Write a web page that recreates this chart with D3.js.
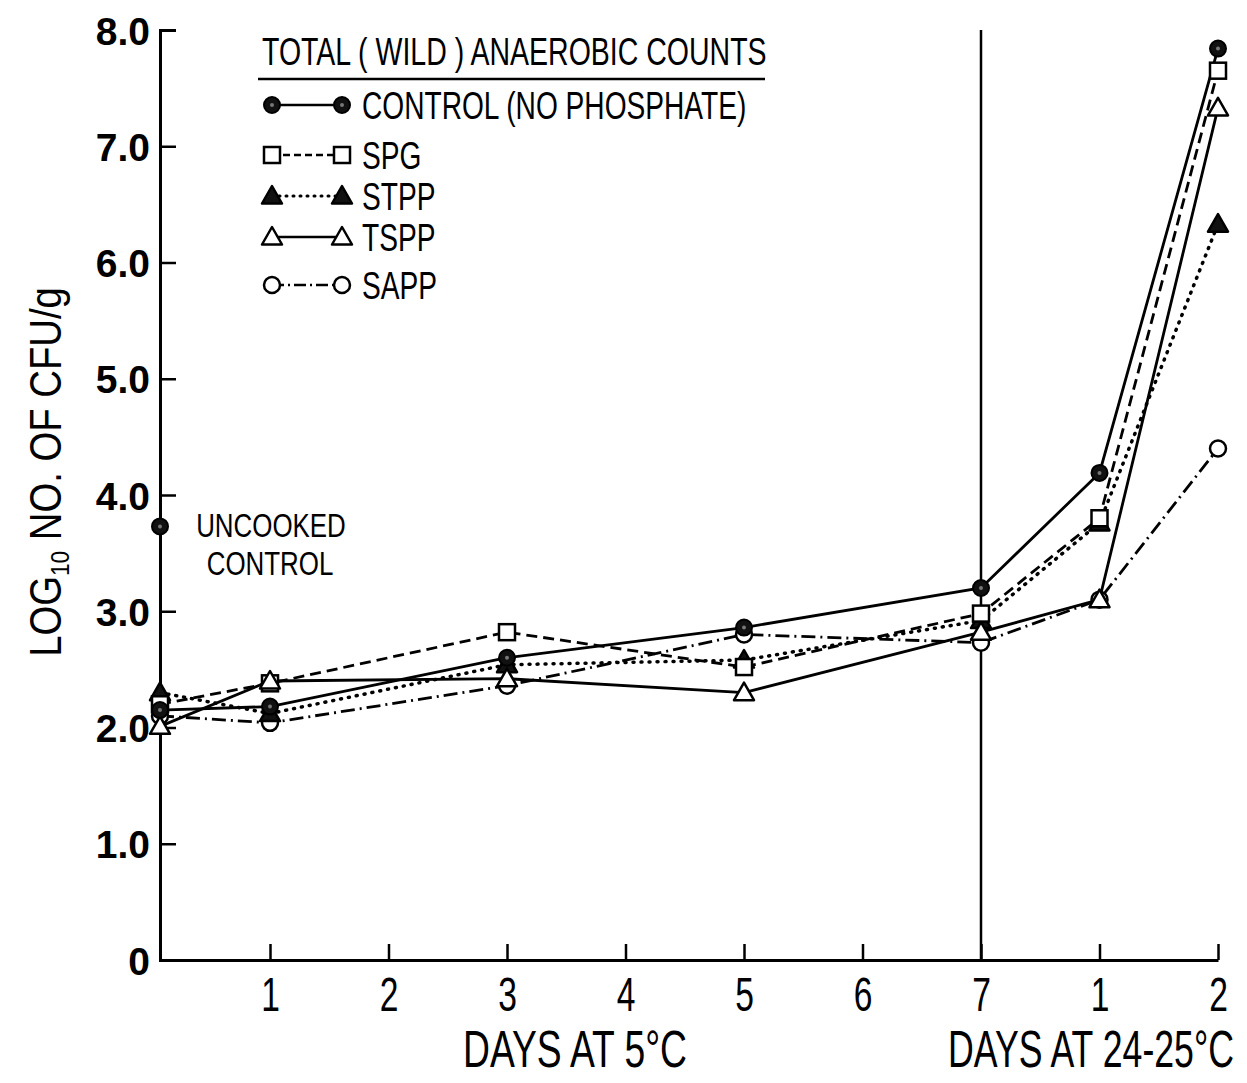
<html lang="en">
<head>
<meta charset="UTF-8">
<title>Total (wild) anaerobic counts</title>
<style>
  body { margin: 0; background: #fff; }
  text { fill: #000; }
  .narrow { font-family: "Liberation Sans", Arial, sans-serif; }
</style>
</head>
<body>
<div class="chart"></div>
<script src="https://d3js.org/d3.v7.min.js"></script>
<script>
// positions along the time axis: 0..7 days at 5°C, then 1, 2 days at 24-25°C
const sampleX = [0, 1, 3, 5, 7, 8, 9]
const xTickValues = [1, 2, 3, 4, 5, 6, 7, 8, 9]
const xTickLabels = ['1', '2', '3', '4', '5', '6', '7', '1', '2']
const yTicks = [0, 1, 2, 3, 4, 5, 6, 7, 8]

const controlVals = [2.15, 2.18, 2.60, 2.86, 3.20, 4.19, 7.84]
const spgVals     = [2.20, 2.38, 2.82, 2.52, 2.98, 3.80, 7.65]
const stppVals    = [2.30, 2.12, 2.54, 2.58, 2.92, 3.76, 6.33]
const tsppVals    = [2.01, 2.40, 2.42, 2.30, 2.82, 3.10, 7.33]
const sappVals    = [2.10, 2.04, 2.36, 2.80, 2.73, 3.10, 4.40]
const uncookedControl = 3.73

const seriesNames = ['CONTROL (NO PHOSPHATE)', 'SPG', 'STPP', 'TSPP', 'SAPP']

const W = 1247, H = 1083
const svg = d3.select('.chart').append('svg')
    .attr('width', W).attr('height', H)

const x = d3.scaleLinear().domain([0, 1, 9]).range([160, 270, 1218])
const y = d3.scaleLinear().domain([0, 8]).range([960, 30])

// the typeface of the original is a condensed sans; squeeze glyphs horizontally
function squeeze(sel, k) {
    sel.each(function () {
        const L = this.getComputedTextLength()
        d3.select(this).attr('textLength', L * k).attr('lengthAdjust', 'spacingAndGlyphs')
    })
}

const series = [
    {name: seriesNames[0], vals: controlVals, dash: null, legendDash: null, marker: 'dotcircle'},
    {name: seriesNames[1], vals: spgVals, dash: '11,6', legendDash: '7,4', marker: 'square'},
    {name: seriesNames[2], vals: stppVals, dash: '1,7', legendDash: '1,6', marker: 'filltri'},
    {name: seriesNames[3], vals: tsppVals, dash: null, legendDash: null, marker: 'opentri'},
    {name: seriesNames[4], vals: sappVals, dash: '14,5,2,5', legendDash: '12,4,2,4', marker: 'opencircle'}
]

// axes
const yAxis = d3.axisLeft(y).tickValues(yTicks).tickSize(-16).tickPadding(10)
    .tickFormat(d => d === 0 ? '0' : d.toFixed(1))
const gy = svg.append('g').attr('transform', 'translate(160,0)').call(yAxis)
gy.select('.domain').attr('stroke-width', 3)
gy.selectAll('.tick line').attr('stroke-width', 2.5)
gy.selectAll('.tick text')
    .style('font-family', '"Liberation Sans", Arial, sans-serif')
    .style('font-size', '39px').style('font-weight', 'bold')
    .attr('dy', '0.36em')

const xAxis = d3.axisBottom(x).tickValues(xTickValues).tickSize(-16).tickPadding(17)
    .tickSizeOuter(0)
    .tickFormat((d, i) => xTickLabels[i])
const gx = svg.append('g').attr('transform', 'translate(0,960)').call(xAxis)
gx.select('.domain').attr('stroke-width', 3)
gx.selectAll('.tick line').attr('stroke-width', 2.5)
gx.selectAll('.tick text').attr('class', 'narrow')
    .style('font-size', '48px').attr('dy', '0.71em')
squeeze(gx.selectAll('.tick text'), 0.7)

// tall divider at day 7
svg.append('line')
    .attr('x1', x(7)).attr('x2', x(7))
    .attr('y1', y(8)).attr('y2', y(0))
    .attr('stroke', '#000').attr('stroke-width', 2.5)

// axis titles
const xt1 = svg.append('text').attr('class', 'narrow')
    .attr('x', 575).attr('y', 1067)
    .attr('text-anchor', 'middle').style('font-size', '51px')
    .text('DAYS AT 5°C')
squeeze(xt1, 0.73)
// right-hand title sits against the page edge: scale it with a transform
svg.append('text').attr('class', 'narrow')
    .attr('transform', 'translate(1091,1067) scale(0.7,1)')
    .attr('text-anchor', 'middle').style('font-size', '51px')
    .text('DAYS AT 24-25°C')

const yTitle = svg.append('text').attr('class', 'narrow')
    .attr('transform', 'translate(61,472) rotate(-90)')
    .attr('text-anchor', 'middle').style('font-size', '44px')
yTitle.append('tspan').text('LOG')
yTitle.append('tspan').attr('dy', 8).style('font-size', '26px').text('10')
yTitle.append('tspan').attr('dy', -8).text(' NO. OF CFU/g')
squeeze(yTitle, 0.87)

// markers
function drawMarker(g, type, cx, cy) {
    if (type === 'dotcircle') {
        g.append('circle').attr('cx', cx).attr('cy', cy).attr('r', 8)
            .attr('fill', '#111').attr('stroke', '#000').attr('stroke-width', 2)
        g.append('circle').attr('cx', cx).attr('cy', cy).attr('r', 2)
            .attr('fill', '#777')
    } else if (type === 'square') {
        g.append('rect').attr('x', cx - 8).attr('y', cy - 8)
            .attr('width', 16).attr('height', 16)
            .attr('fill', '#fff').attr('stroke', '#000').attr('stroke-width', 2.5)
    } else if (type === 'filltri' || type === 'opentri') {
        const s = 10
        g.append('path')
            .attr('d', `M${cx},${cy - s}L${cx + s},${cy + s * 0.75}L${cx - s},${cy + s * 0.75}Z`)
            .attr('fill', type === 'filltri' ? '#111' : '#fff')
            .attr('stroke', '#000').attr('stroke-width', 2.5)
            .attr('stroke-linejoin', 'round')
    } else {
        g.append('circle').attr('cx', cx).attr('cy', cy).attr('r', 8)
            .attr('fill', '#fff').attr('stroke', '#000').attr('stroke-width', 2.5)
    }
}

const line = d3.line().x(d => x(d[0])).y(d => y(d[1]))

const plot = svg.append('g')
series.forEach(s => {
    plot.append('path')
        .datum(sampleX.map((t, i) => [t, s.vals[i]]))
        .attr('d', line)
        .attr('fill', 'none').attr('stroke', '#000')
        .attr('stroke-width', s.dash === '1,7' ? 3.5 : 2.8)
        .attr('stroke-linecap', s.dash === '1,7' ? 'round' : 'butt')
        .attr('stroke-dasharray', s.dash)
})
// marker stacking order: SAPP, STPP, SPG, TSPP, then control on top
;[4, 2, 1, 3, 0].forEach(k => {
    const s = series[k]
    const g = plot.append('g')
    sampleX.forEach((t, i) => drawMarker(g, s.marker, x(t), y(s.vals[i])))
})

// uncooked control point
drawMarker(plot.append('g'), 'dotcircle', x(0), y(uncookedControl))
const unc1 = svg.append('text').attr('class', 'narrow')
    .attr('x', 271).attr('y', 537)
    .attr('text-anchor', 'middle').style('font-size', '33px').text('UNCOOKED')
const unc2 = svg.append('text').attr('class', 'narrow')
    .attr('x', 270).attr('y', 575)
    .attr('text-anchor', 'middle').style('font-size', '33px').text('CONTROL')
squeeze(unc1, 0.785)
squeeze(unc2, 0.785)

// legend
const lg = svg.append('g')
const lt = lg.append('text').attr('class', 'narrow')
    .attr('x', 262).attr('y', 65).style('font-size', '38px')
    .text('TOTAL ( WILD ) ANAEROBIC COUNTS')
squeeze(lt, 0.75)
lg.append('line').attr('x1', 258).attr('x2', 765).attr('y1', 79).attr('y2', 79)
    .attr('stroke', '#000').attr('stroke-width', 2.5)
const legendY = [105, 155, 196, 237, 285]
series.forEach((s, i) => {
    const ly = legendY[i]
    lg.append('line').attr('x1', 272).attr('x2', 342).attr('y1', ly).attr('y2', ly)
        .attr('stroke', '#000')
        .attr('stroke-width', s.dash === '1,7' ? 3 : 2.5)
        .attr('stroke-linecap', s.dash === '1,7' ? 'round' : 'butt')
        .attr('stroke-dasharray', s.legendDash)
    const mg = lg.append('g')
    drawMarker(mg, s.marker, 272, ly)
    drawMarker(mg, s.marker, 342, ly)
    const t = lg.append('text').attr('class', 'narrow')
        .attr('x', 362).attr('y', ly + 14).style('font-size', '38px')
        .text(s.name)
    squeeze(t, 0.74)
})
</script>
</body>
</html>
